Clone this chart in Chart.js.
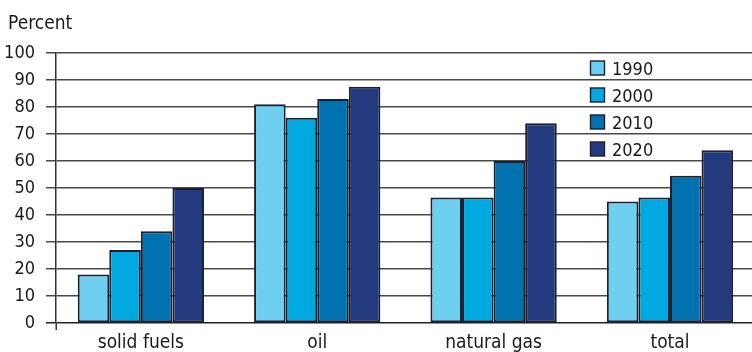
<!DOCTYPE html>
<html>
<head>
<meta charset="utf-8">
<script src="https://cdn.jsdelivr.net/npm/chart.js@4.4.1/dist/chart.umd.min.js"></script>
<style>
  html, body { margin: 0; padding: 0; background: #fff; overflow: hidden; }
  #wrap { position: relative; width: 752px; height: 352px; }
</style>
</head>
<body>
<div id="wrap"><canvas id="c" width="752" height="352"></canvas></div>
<script>
// Import dependency rate by fuel, percent
const categories = ['solid fuels', 'oil', 'natural gas', 'total'];
const years = ['1990', '2000', '2010', '2020'];
const share1990 = [18, 81, 46.5, 45];
const share2000 = [27, 76, 46.5, 46.5];
const share2010 = [34, 83, 60, 54.5];
const share2020 = [50, 87.5, 74, 64];
const yTicks = [0, 10, 20, 30, 40, 50, 60, 70, 80, 90, 100];

const seriesValues = [share1990, share2000, share2010, share2020];
const fills = ['#6fcff0', '#00a9e0', '#0072b0', '#243a7e'];
const FONT_FAMILY = "'DejaVu Sans Condensed', 'Liberation Sans Narrow', 'Roboto', sans-serif";
const FONT_SIZE = 19;
const NUM_SIZE = 18;
const TEXT = '#1a1a1a';

const datasets = years.map((y, k) => ({
  label: y,
  data: seriesValues[k].map((v, i) => ({ x: i, y: v })),
  backgroundColor: fills[k],
  borderColor: '#1c2030',
  borderWidth: 2,
  borderSkipped: false,
  categoryPercentage: 0.716,
  barPercentage: 1
}));

// Unit label, legend inside the plot, and the small axis stub below zero
const decorations = {
  id: 'decorations',
  afterDatasetsDraw(chart) {
    const ctx = chart.ctx;
    const area = chart.chartArea;
    ctx.save();
    ctx.font = FONT_SIZE + 'px ' + FONT_FAMILY;
    ctx.fillStyle = TEXT;
    ctx.textAlign = 'left';
    ctx.textBaseline = 'alphabetic';
    ctx.fillText('Percent', 8, 29);

    // axis stub below the origin
    ctx.strokeStyle = '#333';
    ctx.lineWidth = 1.5;
    ctx.beginPath();
    ctx.moveTo(Math.round(area.left) + 0.25, area.bottom);
    ctx.lineTo(Math.round(area.left) + 0.25, area.bottom + 7);
    ctx.stroke();

    // legend
    ctx.font = NUM_SIZE + 'px ' + FONT_FAMILY;
    chart.data.datasets.forEach((ds, k) => {
      const cy = 68 + 27 * k;
      ctx.fillStyle = ds.backgroundColor;
      ctx.fillRect(590.5, cy - 7, 14, 14);
      ctx.strokeStyle = '#1c2030';
      ctx.lineWidth = 1.4;
      ctx.strokeRect(590.5, cy - 7, 14, 14);
      ctx.fillStyle = TEXT;
      ctx.fillText(ds.label, 612, cy + 7);
    });
    ctx.restore();
  }
};

new Chart(document.getElementById('c'), {
  type: 'bar',
  data: { datasets },
  plugins: [decorations],
  options: {
    responsive: false,
    devicePixelRatio: 1,
    animation: false,
    layout: { padding: { top: 53, left: 0, right: 0, bottom: 0 } },
    plugins: { legend: { display: false }, tooltip: { enabled: false }, title: { display: false } },
    scales: {
      x: {
        type: 'linear',
        offset: false,
        min: -0.481,
        max: 3.465,
        grid: { display: false, drawTicks: false, offset: false },
        border: { display: false },
        afterBuildTicks: s => { s.ticks = categories.map((_, i) => ({ value: i })); },
        afterFit: s => { s.height = 29; },
        ticks: {
          callback: v => categories[v],
          autoSkip: false,
          maxRotation: 0,
          padding: 9,
          color: TEXT,
          font: { family: FONT_FAMILY, size: FONT_SIZE }
        }
      },
      y: {
        min: 0,
        max: 100,
        afterBuildTicks: s => { s.ticks = yTicks.map(v => ({ value: v })); },
        afterFit: s => { s.width = 56; },
        grid: {
          color: c => (c.tick && c.tick.value === 0 ? '#222' : '#4a4a4a'),
          lineWidth: 1.5,
          tickLength: 10,
          drawTicks: true
        },
        border: { color: '#333', width: 1.5 },
        ticks: {
          padding: 11,
          color: TEXT,
          font: { family: FONT_FAMILY, size: NUM_SIZE }
        }
      }
    }
  }
});
</script>
</body>
</html>
